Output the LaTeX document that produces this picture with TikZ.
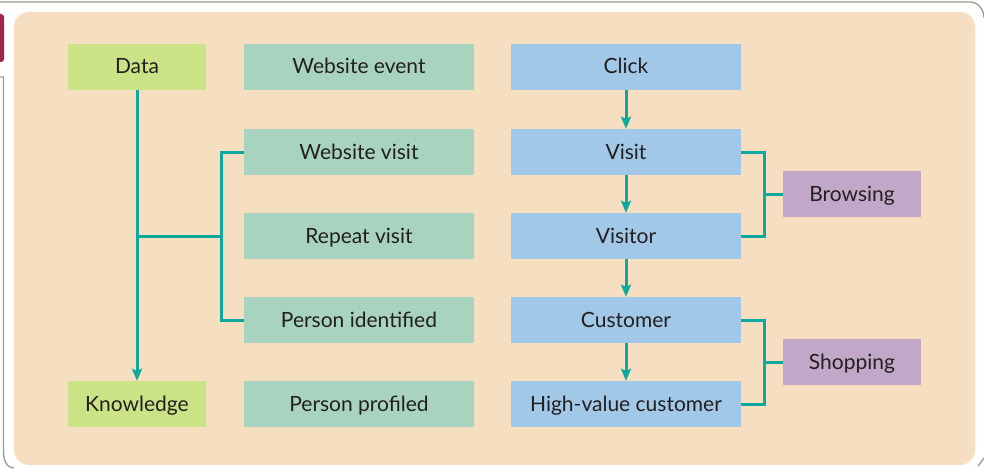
\documentclass[tikz,border=0pt]{standalone}
\usepackage{fontspec}
\setmainfont{Lato}
\usetikzlibrary{arrows.meta}
\definecolor{bgbeige}{HTML}{F6DFC0}
\definecolor{dgreen}{HTML}{C9E386}
\definecolor{tgreen}{HTML}{A8D3BF}
\definecolor{lblue}{HTML}{A2C8E8}
\definecolor{lpurple}{HTML}{C1A8C9}
\definecolor{teal}{HTML}{0EA89E}
\definecolor{framegray}{HTML}{9A9A8C}
\definecolor{crimson}{HTML}{A3234F}
\definecolor{txt}{HTML}{231F20}
\tikzset{
  box/.style={minimum height=46pt, inner sep=0pt, text height=16pt, text depth=2pt, text=txt, font=\fontsize{21}{25}\selectfont, anchor=center},
  gbox/.style={box, fill=dgreen, minimum width=138pt},
  tbox/.style={box, fill=tgreen, minimum width=230pt},
  bbox/.style={box, fill=lblue, minimum width=230pt},
  pbox/.style={box, fill=lpurple, minimum width=138pt},
  conn/.style={draw=teal, line width=3pt},
  arr/.style={conn, -{Stealth[length=12pt,width=10pt,inset=2pt]}},
}
\begin{document}
\begin{tikzpicture}[x=1pt,y=-1pt]
\useasboundingbox (0,0) rectangle (984,468);
% outer frame
\draw[framegray, line width=1.3pt] (0,2) -- (970,2) to[out=0,in=90] (984,18);
\draw[framegray, line width=1.3pt] (0,77) -- (3.5,77) -- (3.5,452) to[out=-90,in=180] (14,468);
\draw[framegray, line width=1.3pt] (978,466) -- (984,458);
\fill[crimson, rounded corners=3pt] (-6,14) rectangle (4,62);
% background
\fill[bgbeige, rounded corners=15pt] (14,12) rectangle (975,465);
% nodes
\node[gbox] (data) at (137,67) {Data};
\node[gbox] (know) at (137,404) {Knowledge};
\node[tbox] (wev) at (359,67) {Website event};
\node[tbox] (wvi) at (359,152) {Website visit};
\node[tbox] (rep) at (359,236) {Repeat visit};
\node[tbox] (pid) at (359,320) {Person identified};
\node[tbox] (ppr) at (359,404) {Person profiled};
\node[bbox] (click) at (626,67) {Click};
\node[bbox] (visit) at (626,152) {Visit};
\node[bbox] (visitor) at (626,236) {Visitor};
\node[bbox] (cust) at (626,320) {Customer};
\node[bbox] (hvc) at (626,404) {High-value customer};
\node[pbox] (brow) at (852,194) {Browsing};
\node[pbox] (shop) at (852,362) {Shopping};
% left connectors
\draw[arr] (data.south) -- (know.north);
\coordinate (lj) at (137,236);
\coordinate (lb) at (221,236);
\draw[conn] (lj) -- (lb);
\draw[conn] (wvi.west) -| (lb);
\draw[conn] (pid.west) -| (lb);
% blue arrows
\draw[arr] (click.south) -- (visit.north);
\draw[arr] (visit.south) -- (visitor.north);
\draw[arr] (visitor.south) -- (cust.north);
\draw[arr] (cust.south) -- (hvc.north);
% brackets
\coordinate (b1) at (764,194);
\draw[conn] (visit.east) -| (b1);
\draw[conn] (visitor.east) -| (b1);
\draw[conn] (b1) -- (brow.west);
\coordinate (b2) at (764,362);
\draw[conn] (cust.east) -| (b2);
\draw[conn] (hvc.east) -| (b2);
\draw[conn] (b2) -- (shop.west);
\end{tikzpicture}
\end{document}
